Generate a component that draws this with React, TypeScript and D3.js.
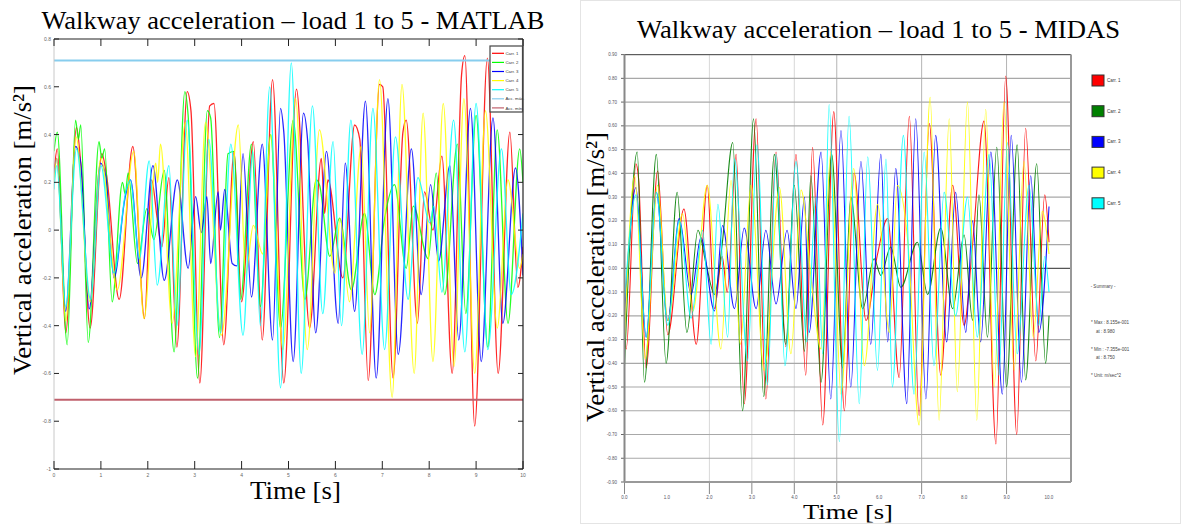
import React from "react";
import * as d3 from "d3";

// time / acceleration pairs (s, m/s²)
const matlabCarr1 = [[0,0.24],[0.07,0.34],[0.25,-0.43],[0.48,0.43],[0.57,0.28],[0.77,-0.41],[1.02,0.32],[1.12,0.23],[1.39,-0.29],[1.68,0.35],[1.93,-0.37],[2.08,0.21],[2.2,0.05],[2.3,-0.07],[2.45,0.22],[2.62,-0.49],[2.84,0.58],[2.92,0.5],[3.11,-0.64],[3.32,0.52],[3.41,0.53],[3.62,-0.48],[3.84,0.33],[4.0,-0.3],[4.25,0.37],[4.44,-0.46],[4.66,0.63],[4.9,-0.64],[5.17,0.59],[5.45,-0.41],[5.7,0.3],[5.77,0.07],[5.84,0.21],[6.16,-0.2],[6.41,0.44],[6.52,0.38],[6.7,-0.63],[6.94,0.61],[7.01,0.6],[7.23,-0.62],[7.44,0.41],[7.51,0.46],[7.75,-0.39],[7.9,0.16],[8.08,0.0],[8.27,0.31],[8.49,-0.6],[8.69,0.65],[8.76,0.73],[8.97,-0.82],[9.24,0.72],[9.47,-0.6],[9.72,0.41],[9.89,-0.24],[10,-0.07]];
const matlabCarr2 = [[0,0.33],[0.07,0.41],[0.28,-0.48],[0.46,0.46],[0.52,0.38],[0.57,0.44],[0.73,-0.47],[0.96,0.37],[1.02,0.3],[1.08,0.34],[1.24,-0.3],[1.46,0.2],[1.52,0.15],[1.58,0.24],[1.78,-0.14],[1.98,0.09],[2.13,-0.04],[2.35,0.25],[2.56,-0.51],[2.79,0.58],[2.86,0.48],[3.06,-0.62],[3.27,0.5],[3.34,0.47],[3.53,-0.45],[3.71,0.32],[3.84,0.33],[3.98,-0.29],[4.21,0.36],[4.4,-0.32],[4.62,0.4],[4.83,-0.41],[5.1,0.46],[5.35,-0.29],[5.59,0.21],[5.66,0.19],[5.88,-0.11],[6.09,0.05],[6.34,-0.25],[6.62,0.07],[6.84,-0.27],[7.05,0.05],[7.26,0.19],[7.51,-0.16],[7.66,0.1],[7.98,-0.12],[8.15,0.24],[8.33,-0.27],[8.6,0.36],[8.78,-0.35],[9.0,0.48],[9.25,-0.49],[9.45,0.42],[9.68,-0.39],[9.93,0.34],[10,0.2]];
const matlabCarr3 = [[0,0.22],[0.06,0.3],[0.25,-0.34],[0.46,0.35],[0.57,0.28],[0.75,-0.33],[0.99,0.28],[1.1,0.23],[1.28,-0.2],[1.51,0.13],[1.63,0.21],[1.86,-0.2],[2.11,0.27],[2.35,-0.21],[2.63,0.21],[2.86,-0.16],[3.02,0.14],[3.14,-0.01],[3.26,0.14],[3.34,-0.14],[3.5,0.16],[3.55,0.0],[3.64,0.17],[3.8,-0.14],[3.9,-0.15],[4.03,0.32],[4.21,-0.28],[4.44,0.36],[4.66,-0.46],[4.83,0.51],[4.9,0.41],[5.1,-0.55],[5.32,0.49],[5.41,0.37],[5.58,-0.43],[5.81,0.33],[6.06,-0.39],[6.21,0.28],[6.41,-0.34],[6.64,0.54],[6.87,-0.62],[7.12,0.55],[7.34,-0.52],[7.62,0.34],[7.83,-0.27],[8.03,0.19],[8.2,-0.13],[8.44,0.27],[8.63,-0.46],[8.88,0.51],[9.11,-0.55],[9.36,0.47],[9.57,-0.39],[9.84,0.26],[10,-0.19]];
const matlabCarr4 = [[0,0.2],[0.06,0.3],[0.25,-0.38],[0.47,0.39],[0.77,-0.3],[1.0,0.3],[1.35,-0.25],[1.7,0.33],[1.92,-0.37],[2.17,0.28],[2.21,0.2],[2.27,0.36],[2.52,-0.39],[2.8,0.45],[3.02,-0.53],[3.23,0.45],[3.57,-0.44],[3.93,0.44],[4.09,-0.18],[4.25,0.02],[4.45,-0.1],[4.62,0.4],[4.88,-0.5],[5.15,0.55],[5.4,-0.5],[5.66,0.42],[5.99,-0.18],[6.1,0.05],[6.3,-0.3],[6.55,0.35],[6.73,-0.43],[6.94,0.63],[7.21,-0.7],[7.42,0.61],[7.68,-0.6],[7.87,0.49],[8.08,-0.55],[8.3,0.53],[8.53,-0.57],[8.74,0.55],[8.97,-0.6],[9.2,0.5],[9.45,-0.41],[9.68,0.21],[9.93,-0.16],[10,-0.1]];
const matlabCarr5 = [[0,0.17],[0.06,0.27],[0.25,-0.32],[0.48,0.34],[0.78,-0.29],[1.0,0.27],[1.28,-0.18],[1.53,0.16],[1.63,0.21],[1.82,-0.12],[2.03,0.29],[2.2,-0.23],[2.45,0.27],[2.62,-0.4],[2.84,0.46],[3.09,-0.52],[3.3,0.38],[3.55,-0.43],[3.77,0.36],[4.03,-0.44],[4.24,0.33],[4.4,-0.4],[4.6,0.6],[4.83,-0.66],[5.06,0.7],[5.27,-0.6],[5.51,0.52],[5.73,-0.35],[5.95,0.37],[6.13,-0.4],[6.33,0.46],[6.57,-0.52],[6.8,0.51],[7.05,-0.5],[7.28,0.39],[7.55,-0.29],[7.76,0.22],[8.01,0.03],[8.1,0.1],[8.27,-0.26],[8.52,0.46],[8.76,-0.51],[9.0,0.53],[9.25,-0.5],[9.54,0.34],[9.75,-0.27],[10,0.07]];
const accMax = 0.71;
const accMin = -0.71;

// MIDAS plot
const midasCarr1 = [[0,-0.3],[0.04,-0.34],[0.27,0.44],[0.33,0.38],[0.51,-0.42],[0.78,0.41],[1.02,-0.28],[1.4,0.25],[1.69,-0.32],[1.95,0.35],[2.12,-0.17],[2.3,0.05],[2.42,-0.1],[2.63,0.48],[2.82,-0.57],[3.1,0.63],[3.33,-0.55],[3.57,0.49],[3.8,-0.33],[4.04,0.48],[4.27,-0.45],[4.43,0.51],[4.67,-0.66],[4.93,0.66],[5.18,-0.6],[5.41,0.4],[5.69,-0.22],[5.95,0.05],[6.2,0.21],[6.47,-0.46],[6.71,0.64],[6.94,-0.62],[7.18,0.61],[7.45,-0.45],[7.73,0.35],[8.0,-0.24],[8.2,0.1],[8.47,0.62],[8.75,-0.74],[8.98,0.81],[9.24,-0.7],[9.45,0.59],[9.69,-0.39],[9.9,0.31],[10,0.11]];
const midasCarr2 = [[0,-0.41],[0.3,0.49],[0.47,-0.48],[0.75,0.48],[0.98,-0.4],[1.24,0.32],[1.47,-0.27],[1.73,0.16],[1.92,0.02],[2.12,-0.11],[2.3,0.1],[2.55,0.53],[2.78,-0.6],[3.04,0.63],[3.28,-0.54],[3.53,0.48],[3.8,-0.32],[4.0,0.35],[4.24,-0.35],[4.39,0.39],[4.63,-0.48],[4.88,0.48],[5.14,-0.42],[5.33,0.3],[5.61,-0.17],[5.88,0.04],[6.04,-0.03],[6.27,0.09],[6.51,-0.08],[6.9,0.11],[7.14,-0.11],[7.45,0.17],[7.73,-0.17],[8.0,0.14],[8.2,-0.22],[8.35,0.31],[8.55,-0.29],[8.77,0.51],[9.0,-0.5],[9.25,0.52],[9.45,-0.47],[9.71,0.44],[9.92,-0.4],[10,-0.2]];
const midasCarr3 = [[0,-0.2],[0.27,0.34],[0.51,-0.29],[0.75,0.32],[1.02,-0.22],[1.29,0.21],[1.57,-0.11],[1.8,0.13],[2.12,-0.18],[2.31,0.18],[2.59,-0.17],[2.82,0.17],[3.1,-0.17],[3.33,0.16],[3.57,-0.15],[3.83,0.16],[4.04,-0.17],[4.24,0.3],[4.35,-0.27],[4.63,0.49],[4.86,-0.55],[5.1,0.58],[5.33,-0.5],[5.57,0.45],[5.8,-0.32],[6.04,0.48],[6.2,-0.31],[6.39,0.42],[6.65,-0.57],[6.86,0.63],[7.1,-0.55],[7.33,0.56],[7.59,-0.31],[7.8,0.32],[8.04,-0.27],[8.2,0.2],[8.39,-0.31],[8.63,0.49],[8.9,-0.53],[9.11,0.56],[9.35,-0.48],[9.57,0.39],[9.76,-0.27],[10,0.26]];
const midasCarr4 = [[0,-0.31],[0.24,0.39],[0.49,-0.38],[0.78,0.35],[1.02,-0.22],[1.37,0.23],[1.61,-0.18],[1.95,0.35],[2.27,-0.34],[2.51,0.37],[2.73,-0.32],[2.98,0.35],[3.29,-0.43],[3.65,0.34],[3.92,-0.36],[4.16,0.33],[4.4,-0.05],[4.63,-0.34],[4.86,0.49],[5.1,-0.53],[5.4,0.42],[5.65,-0.41],[5.96,0.27],[6.24,-0.27],[6.43,0.35],[6.68,0.1],[6.94,-0.66],[7.2,0.72],[7.41,-0.64],[7.65,0.63],[7.84,-0.52],[8.08,0.7],[8.3,-0.64],[8.51,0.67],[8.71,-0.5],[8.94,0.7],[9.18,-0.43],[9.41,0.45],[9.63,-0.29],[9.84,0.24],[10,0.06]];
const midasCarr5 = [[0,-0.14],[0.27,0.31],[0.51,-0.29],[0.75,0.32],[1.02,-0.24],[1.29,0.2],[1.57,-0.21],[1.84,0.16],[2.04,-0.32],[2.2,0.27],[2.43,-0.29],[2.59,0.46],[2.9,-0.39],[3.12,0.52],[3.37,-0.49],[3.57,0.48],[3.78,-0.41],[4.04,0.45],[4.3,-0.31],[4.51,0.3],[4.67,-0.36],[4.82,0.69],[5.06,-0.73],[5.29,0.64],[5.53,-0.57],[5.73,0.47],[5.96,-0.43],[6.16,0.46],[6.31,-0.5],[6.57,0.56],[6.82,-0.53],[7.06,0.49],[7.29,-0.41],[7.53,0.32],[7.8,-0.2],[8.08,0.3],[8.31,-0.29],[8.59,0.48],[8.82,-0.45],[9.02,0.53],[9.25,-0.36],[9.53,0.35],[9.76,-0.24],[9.9,0.05],[10,-0.1]];

const matlabSeries = [matlabCarr1, matlabCarr2, matlabCarr3, matlabCarr4, matlabCarr5];
const midasSeries = [midasCarr1, midasCarr2, midasCarr3, midasCarr4, midasCarr5];
const seriesNames = ["Carr. 1", "Carr. 2", "Carr. 3", "Carr. 4", "Carr. 5"];
const matlabColors = ["#ff0000", "#00ff00", "#0000ff", "#ffff00", "#00ffff"];
const midasColors = ["#ff0000", "#008000", "#0000ff", "#ffff00", "#00ffff"];
const limitNames = ["Acc. máx.", "Acc. mín."];
const limitColors = ["#87cdee", "#c0606c"];

const matlabYTicks = [0.8, 0.6, 0.4, 0.2, 0, -0.2, -0.4, -0.6, -0.8, -1];
const matlabXTicks = [0, 1, 2, 3, 4, 5, 6, 7, 8, 9, 10];
const midasYTicks = [0.9, 0.8, 0.7, 0.6, 0.5, 0.4, 0.3, 0.2, 0.1, 0, -0.1, -0.2, -0.3, -0.4, -0.5, -0.6, -0.7, -0.8, -0.9];
const midasXTicks = [0, 1, 2, 3, 4, 5, 6, 7, 8, 9, 10];
const midasVGrid = [2, 3, 4, 5, 7, 9];
const summaryLines = ["- Summary -", "* Max : 8.155e-001", "at : 8.980", "* Min : -7.355e-001", "at : 8.750", "* Unit: m/sec^2"];

const serif = "Times New Roman, Liberation Serif, DejaVu Serif, serif";
const sans = "Liberation Sans, Arial, sans-serif";

export default function App() {
  // MATLAB panel
  const xL = d3.scaleLinear().domain([0, 10]).range([54, 523]);
  const yL = d3.scaleLinear().domain([-1, 0.8]).range([469, 39]);
  const lineL = d3.line<number[]>().x((d) => xL(d[0])).y((d) => yL(d[1])).curve(d3.curveMonotoneX);

  // MIDAS panel
  const xR = d3.scaleLinear().domain([0, 10]).range([624.5, 1049]);
  const yR = d3.scaleLinear().domain([-0.9, 0.9]).range([482, 54.6]);
  const lineR = d3.line<number[]>().x((d) => xR(d[0])).y((d) => yR(d[1])).curve(d3.curveMonotoneX);
  const rRight = 1071;

  return (
    <svg width={1181} height={524} style={{ position: "absolute", left: 0, top: 0, background: "#fff" }}>
      <defs>
        <clipPath id="clipL"><rect x={54} y={39} width={469} height={430} /></clipPath>
        <clipPath id="clipR"><rect x={624.5} y={54.6} width={rRight - 624.5} height={427.4} /></clipPath>
      </defs>

      {/* ---------- MATLAB ---------- */}
      <text x={293} y={29} textAnchor="middle" style={{ fontFamily: serif }} fontSize={26} textLength={503} lengthAdjust="spacingAndGlyphs">
        Walkway acceleration – load 1 to 5 - MATLAB
      </text>
      <g clipPath="url(#clipL)">
        {matlabSeries.map((s, i) => (
          <path key={i} d={lineL(s) || ""} fill="none" stroke={matlabColors[i]} strokeWidth={1.3} strokeOpacity={0.85} />
        ))}
        <line x1={xL(0)} x2={xL(10)} y1={yL(accMax)} y2={yL(accMax)} stroke={limitColors[0]} strokeWidth={2} />
        <line x1={xL(0)} x2={xL(10)} y1={yL(accMin)} y2={yL(accMin)} stroke={limitColors[1]} strokeWidth={2} />
      </g>
      {/* frame */}
      <line x1={54} x2={54} y1={39} y2={469} stroke="#c8c8c8" />
      <line x1={54} x2={523} y1={39} y2={39} stroke="#222" strokeWidth={1.2} />
      <line x1={523} x2={523} y1={39} y2={469} stroke="#222" strokeWidth={1.2} />
      <line x1={54} x2={523} y1={469} y2={469} stroke="#222" strokeWidth={1.2} />
      {matlabXTicks.map((t) => (
        <g key={t}>
          <line x1={xL(t)} x2={xL(t)} y1={469} y2={461} stroke="#222" />
          <line x1={xL(t)} x2={xL(t)} y1={39} y2={46} stroke="#222" />
          <text x={xL(t)} y={477} textAnchor="middle" style={{ fontFamily: sans }} fontSize={5} fill="#666">{t}</text>
        </g>
      ))}
      {matlabYTicks.map((v) => (
        <g key={v}>
          <line x1={54} x2={59} y1={yL(v)} y2={yL(v)} stroke="#222" />
          <line x1={518} x2={523} y1={yL(v)} y2={yL(v)} stroke="#222" />
          <text x={51} y={yL(v) + 2} textAnchor="end" style={{ fontFamily: sans }} fontSize={5} fill="#666">{v}</text>
        </g>
      ))}
      {/* legend */}
      <rect x={490} y={46} width={32.5} height={66} fill="#fff" stroke="#444" strokeWidth={1.2} />
      {[...seriesNames, ...limitNames].map((n, i) => {
        const y = 53.3 + i * 9.1;
        const c = i < 5 ? matlabColors[i] : limitColors[i - 5];
        return (
          <g key={n}>
            <line x1={492} x2={504} y1={y} y2={y} stroke={c} strokeWidth={1.2} />
            <text x={505.5} y={y + 1.6} style={{ fontFamily: sans }} fontSize={4.3} fill="#333">{n}</text>
          </g>
        );
      })}
      <text transform="translate(30.5,230) rotate(-90)" textAnchor="middle" style={{ fontFamily: serif }} fontSize={26} textLength={290} lengthAdjust="spacingAndGlyphs">
        Vertical acceleration [m/s²]
      </text>
      <text x={295.5} y={499} textAnchor="middle" style={{ fontFamily: serif }} fontSize={26} textLength={91} lengthAdjust="spacingAndGlyphs">
        Time [s]
      </text>

      {/* ---------- MIDAS ---------- */}
      <rect x={580.5} y={0.5} width={600} height={523} fill="none" stroke="#e4e4e4" />
      <text x={878.5} y={38} textAnchor="middle" style={{ fontFamily: serif }} fontSize={26} textLength={483} lengthAdjust="spacingAndGlyphs">
        Walkway acceleration – load 1 to 5 - MIDAS
      </text>
      {midasVGrid.map((t) => (
        <g key={t}>
          <line x1={xR(t)} x2={xR(t)} y1={54.6} y2={482} stroke={t >= 5 ? "#b4b4b4" : "#d8d8d8"} />
          <line x1={xR(t)} x2={xR(t)} y1={482} y2={494} stroke="#888" />
        </g>
      ))}
      <line x1={xR(0)} x2={xR(0)} y1={482} y2={494} stroke="#888" />
      {midasYTicks.map((v) => (
        <g key={v}>
          <line x1={624.5} x2={rRight} y1={yR(v)} y2={yR(v)} stroke={v === 0 ? "#555" : "#a8a8a8"} strokeWidth={v === 0 ? 1.3 : 1.2} />
          <line x1={621} x2={624.5} y1={yR(v)} y2={yR(v)} stroke="#666" />
          <text x={617} y={yR(v) + 1.6} textAnchor="end" style={{ fontFamily: sans }} fontSize={4.5} fill="#556">{v.toFixed(2)}</text>
        </g>
      ))}
      <g clipPath="url(#clipR)">
        {midasSeries.map((s, i) => (
          <path key={i} d={lineR(s) || ""} fill="none" stroke={midasColors[i]} strokeWidth={1.1} strokeOpacity={0.9} />
        ))}
      </g>
      <line x1={624.5} x2={rRight} y1={54.6} y2={54.6} stroke="#555" />
      <line x1={624.5} x2={624.5} y1={54.6} y2={482} stroke="#888" strokeWidth={2} />
      <line x1={rRight} x2={rRight} y1={54.6} y2={482} stroke="#999" strokeWidth={2} />
      <line x1={624.5} x2={rRight} y1={482} y2={482} stroke="#999" strokeWidth={2} />
      {midasXTicks.map((t) => (
        <text key={t} x={xR(t)} y={498.5} textAnchor="middle" style={{ fontFamily: sans }} fontSize={4.5} fill="#556">{t.toFixed(1)}</text>
      ))}
      {/* legend */}
      {seriesNames.map((n, i) => {
        const y = 75 + i * 30.7;
        return (
          <g key={n}>
            <rect x={1092} y={y} width={12} height={11} fill={midasColors[i]} stroke="#333" strokeWidth={1} />
            <text x={1107} y={y + 7} style={{ fontFamily: sans }} fontSize={4.5} fill="#333">{n}</text>
          </g>
        );
      })}
      {summaryLines.map((s, i) => {
        const ys = [288, 324, 333, 351, 359, 377];
        return (
          <text key={i} x={i === 0 ? 1103 : i === 2 || i === 4 ? 1096 : 1091} y={ys[i]} textAnchor={i === 0 ? "middle" : "start"} style={{ fontFamily: sans }} fontSize={4.5} fill="#444">{s}</text>
        );
      })}
      <text transform="translate(604,277) rotate(-90)" textAnchor="middle" style={{ fontFamily: serif }} fontSize={26} textLength={290} lengthAdjust="spacingAndGlyphs">
        Vertical acceleration [m/s²]
      </text>
      <text x={848} y={519.3} textAnchor="middle" style={{ fontFamily: serif }} fontSize={21.5} textLength={90} lengthAdjust="spacingAndGlyphs">
        Time [s]
      </text>
    </svg>
  );
}
